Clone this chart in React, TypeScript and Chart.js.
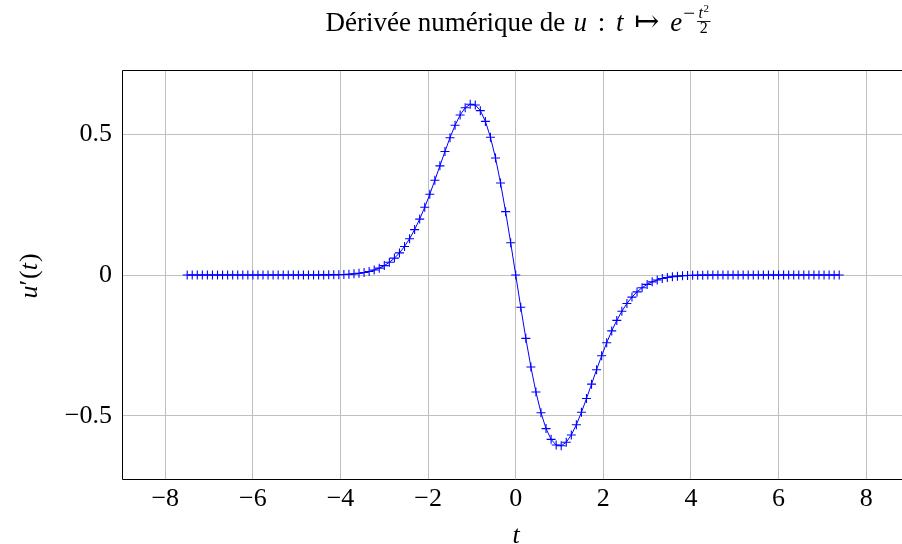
import React, { useEffect, useRef } from "react";
import { Chart, registerables } from "chart.js";

Chart.register(...registerables);

// Sample points t (uniform grid from -7.5, step 15/130)
const tValues = [
  -7.5, -7.3846, -7.2692, -7.1538, -7.0385, -6.9231, -6.8077, -6.6923, -6.5769, -6.4615,
  -6.3462, -6.2308, -6.1154, -6.0, -5.8846, -5.7692, -5.6538, -5.5385, -5.4231, -5.3077,
  -5.1923, -5.0769, -4.9615, -4.8462, -4.7308, -4.6154, -4.5, -4.3846, -4.2692, -4.1538,
  -4.0385, -3.9231, -3.8077, -3.6923, -3.5769, -3.4615, -3.3462, -3.2308, -3.1154, -3.0,
  -2.8846, -2.7692, -2.6538, -2.5385, -2.4231, -2.3077, -2.1923, -2.0769, -1.9615, -1.8462,
  -1.7308, -1.6154, -1.5, -1.3846, -1.2692, -1.1538, -1.0385, -0.9231, -0.8077, -0.6923,
  -0.5769, -0.4615, -0.3462, -0.2308, -0.1154, 0,
  0.1154, 0.2308, 0.3462, 0.4615, 0.5769, 0.6923, 0.8077, 0.9231, 1.0385, 1.1538,
  1.2692, 1.3846, 1.5, 1.6154, 1.7308, 1.8462, 1.9615, 2.0769, 2.1923, 2.3077,
  2.4231, 2.5385, 2.6538, 2.7692, 2.8846, 3.0, 3.1154, 3.2308, 3.3462, 3.4615,
  3.5769, 3.6923, 3.8077, 3.9231, 4.0385, 4.1538, 4.2692, 4.3846, 4.5, 4.6154,
  4.7308, 4.8462, 4.9615, 5.0769, 5.1923, 5.3077, 5.4231, 5.5385, 5.6538, 5.7692,
  5.8846, 6.0, 6.1154, 6.2308, 6.3462, 6.4615, 6.5769, 6.6923, 6.8077, 6.9231,
  7.0385, 7.1538, 7.2692, 7.3846,
];

// Numerical derivative u'(t)
const uPrimeValues = [
  0, 0, 0, 0, 0, 0, 0, 0, 0, 0,
  0, 0, 0, 0, 0, 0, 0, 0, 0, 0,
  0, 0, 0.00002, 0.00004, 0.00007, 0.00011, 0.00018, 0.00029, 0.00047, 0.00074,
  0.00116, 0.00179, 0.00271, 0.00405, 0.00596, 0.00866, 0.01239, 0.01749, 0.02432, 0.03333,
  0.045, 0.05986, 0.07844, 0.10123, 0.12866, 0.16098, 0.19826, 0.24029, 0.28648, 0.33587,
  0.38704, 0.43817, 0.48698, 0.53091, 0.56719, 0.59299, 0.60564, 0.60286, 0.58289, 0.54478,
  0.48847, 0.41491, 0.32602, 0.22471, 0.11462, 0,
  -0.11462, -0.22471, -0.32602, -0.41491, -0.48847, -0.54478, -0.58289, -0.60286, -0.60564, -0.59299,
  -0.56719, -0.53091, -0.48698, -0.43817, -0.38704, -0.33587, -0.28648, -0.24029, -0.19826, -0.16098,
  -0.12866, -0.10123, -0.07844, -0.05986, -0.045, -0.03333, -0.02432, -0.01749, -0.01239, -0.00866,
  -0.00596, -0.00405, -0.00271, -0.00179, -0.00116, -0.00074, -0.00047, -0.00029, -0.00018, -0.00011,
  -0.00007, -0.00004, -0.00002, 0, 0, 0, 0, 0, 0, 0,
  0, 0, 0, 0, 0, 0, 0, 0, 0, 0,
  0, 0, 0, 0,
];

const xTicks = [-8, -6, -4, -2, 0, 2, 4, 6, 8];
const yTicks = [-0.5, 0, 0.5];
const xLimits = [-8.988, 8.873];
const yLimits = [-0.727, 0.727];

const titleText = "Dérivée numérique de";
const xLabel = "t";

const FAM = '"Liberation Serif", "DejaVu Serif", serif';
const BLUE = "#0000ff";
const FS = 26;
const TFS = 27;

const fmt = (v: number | string) => {
  const n = Number(v);
  return n < 0 ? "\u2212" + String(Math.abs(n)) : String(n);
};

type Piece = { text: string; font: string; gap?: number };

function drawPieces(ctx: CanvasRenderingContext2D, pieces: Piece[], x: number, y: number) {
  let cx = x;
  for (const p of pieces) {
    cx += p.gap || 0;
    ctx.font = p.font;
    ctx.fillText(p.text, cx, y);
    cx += ctx.measureText(p.text).width;
  }
  return cx;
}
function widthPieces(ctx: CanvasRenderingContext2D, pieces: Piece[]) {
  let w = 0;
  for (const p of pieces) {
    ctx.font = p.font;
    w += (p.gap || 0) + ctx.measureText(p.text).width;
  }
  return w;
}

const textPlugin = {
  id: "texts",
  afterDraw(chart: any) {
    const ctx: CanvasRenderingContext2D = chart.ctx;
    const area = chart.chartArea;
    ctx.save();
    ctx.fillStyle = "#000";
    ctx.strokeStyle = "#000";
    ctx.textBaseline = "alphabetic";
    ctx.textAlign = "left";

    // frame
    ctx.lineWidth = 1;
    ctx.beginPath();
    const l = Math.round(area.left) + 0.5;
    const t = Math.round(area.top) + 0.5;
    const b = Math.round(area.bottom) - 0.5;
    const r = Math.round(area.right) - 0.5;
    ctx.moveTo(r + 5, t);
    ctx.lineTo(l, t);
    ctx.lineTo(l, b);
    ctx.lineTo(r + 5, b);
    ctx.stroke();

    // title
    const B = 31;
    const g = 0.4 * TFS;
    const main: Piece[] = [
      { text: titleText, font: `${TFS}px ${FAM}` },
      { text: "u", font: `italic ${TFS}px ${FAM}`, gap: 0.3 * TFS },
      { text: ":", font: `${TFS}px ${FAM}`, gap: g },
      { text: "t", font: `italic ${TFS}px ${FAM}`, gap: g },
      { text: "\u21A6", font: `${TFS + 3}px ${FAM}`, gap: g },
      { text: "e", font: `italic ${TFS}px ${FAM}`, gap: g },
    ];
    const minusP: Piece[] = [{ text: "\u2212", font: `21px ${FAM}`, gap: 1 }];
    const numT: Piece = { text: "t", font: `italic 16px ${FAM}` };
    const numSq: Piece = { text: "2", font: `11px ${FAM}` };
    const den: Piece = { text: "2", font: `16px ${FAM}` };
    const wMain = widthPieces(ctx, main);
    const wMinus = widthPieces(ctx, minusP);
    const wNum = widthPieces(ctx, [numT, numSq]) + 0.5;
    const wDen = widthPieces(ctx, [den]);
    const wFrac = Math.max(wNum, wDen) + 3;
    const total = wMain + wMinus + 2 + wFrac;
    const cxTitle = 518;
    let x = cxTitle - total / 2;
    x = drawPieces(ctx, main, x, B);
    x = drawPieces(ctx, minusP, x, B - 11);
    x += 2;
    const fx = x;
    ctx.font = numT.font;
    const wT = ctx.measureText(numT.text).width;
    const nx = fx + (wFrac - wNum) / 2;
    ctx.fillText(numT.text, nx, 18);
    ctx.font = numSq.font;
    ctx.fillText(numSq.text, nx + wT + 0.5, 12);
    ctx.font = den.font;
    ctx.fillText(den.text, fx + (wFrac - wDen) / 2, 33);
    ctx.lineWidth = 0.9;
    ctx.beginPath();
    ctx.moveTo(fx, 21.5);
    ctx.lineTo(fx + wFrac, 21.5);
    ctx.stroke();

    // x label
    ctx.font = `italic ${FS}px ${FAM}`;
    ctx.textAlign = "center";
    ctx.fillText(xLabel, 516, 543);

    // y label u'(t), rotated
    const yl: Piece[] = [
      { text: "u", font: `italic ${FS}px ${FAM}` },
      { text: "\u2032", font: `${FS}px ${FAM}` },
      { text: "(", font: `${FS}px ${FAM}`, gap: 1 },
      { text: "t", font: `italic ${FS}px ${FAM}` },
      { text: ")", font: `${FS}px ${FAM}`, gap: 1 },
    ];
    ctx.textAlign = "left";
    const wy = widthPieces(ctx, yl);
    ctx.translate(37, 276);
    ctx.rotate(-Math.PI / 2);
    drawPieces(ctx, yl, -wy / 2, 0);
    ctx.restore();
  },
};

export default function App() {
  const ref = useRef<HTMLCanvasElement>(null);
  useEffect(() => {
    const canvas = ref.current;
    if (!canvas) return;
    const chart = new Chart(canvas, {
      type: "line",
      data: {
        datasets: [
          {
            data: tValues.map((t, i) => ({ x: t, y: uPrimeValues[i] })),
            borderColor: BLUE,
            backgroundColor: BLUE,
            borderWidth: 1,
            pointStyle: "cross",
            pointRadius: 4.5,
            pointBorderWidth: 1.1,
            pointBorderColor: BLUE,
            pointHoverRadius: 4.5,
            tension: 0,
            fill: false,
          },
        ],
      },
      options: {
        animation: false,
        responsive: false,
        devicePixelRatio: 1,
        events: [],
        layout: { padding: { top: 70, left: 0, right: 0, bottom: 0 } },
        plugins: {
          legend: { display: false },
          tooltip: { enabled: false },
          title: { display: false },
        },
        scales: {
          x: {
            type: "linear",
            min: xLimits[0],
            max: xLimits[1],
            afterBuildTicks: (s: any) => {
              s.ticks = xTicks.map((v) => ({ value: v }));
            },
            afterFit: (s: any) => {
              s.height = 64;
            },
            grid: { color: "#bfbfbf", lineWidth: 1, drawTicks: false },
            border: { display: false },
            ticks: {
              padding: 4,
              color: "#000",
              font: { family: FAM, size: FS },
              callback: (v: any) => fmt(v),
              maxRotation: 0,
              autoSkip: false,
            },
          },
          y: {
            type: "linear",
            min: yLimits[0],
            max: yLimits[1],
            afterBuildTicks: (s: any) => {
              s.ticks = yTicks.map((v) => ({ value: v }));
            },
            afterFit: (s: any) => {
              s.width = 122;
            },
            grid: { color: "#bfbfbf", lineWidth: 1, drawTicks: false },
            border: { display: false },
            ticks: {
              padding: 10,
              color: "#000",
              font: { family: FAM, size: FS },
              callback: (v: any) => fmt(v),
              autoSkip: false,
            },
          },
        },
      },
      plugins: [textPlugin],
    } as any);
    return () => chart.destroy();
  }, []);
  return (
    <div
      style={{
        position: "fixed",
        left: 0,
        top: 0,
        width: 902,
        height: 544,
        overflow: "hidden",
        background: "#fff",
      }}
    >
      <canvas ref={ref} width={910} height={544} style={{ display: "block", width: 910, height: 544 }} />
    </div>
  );
}
